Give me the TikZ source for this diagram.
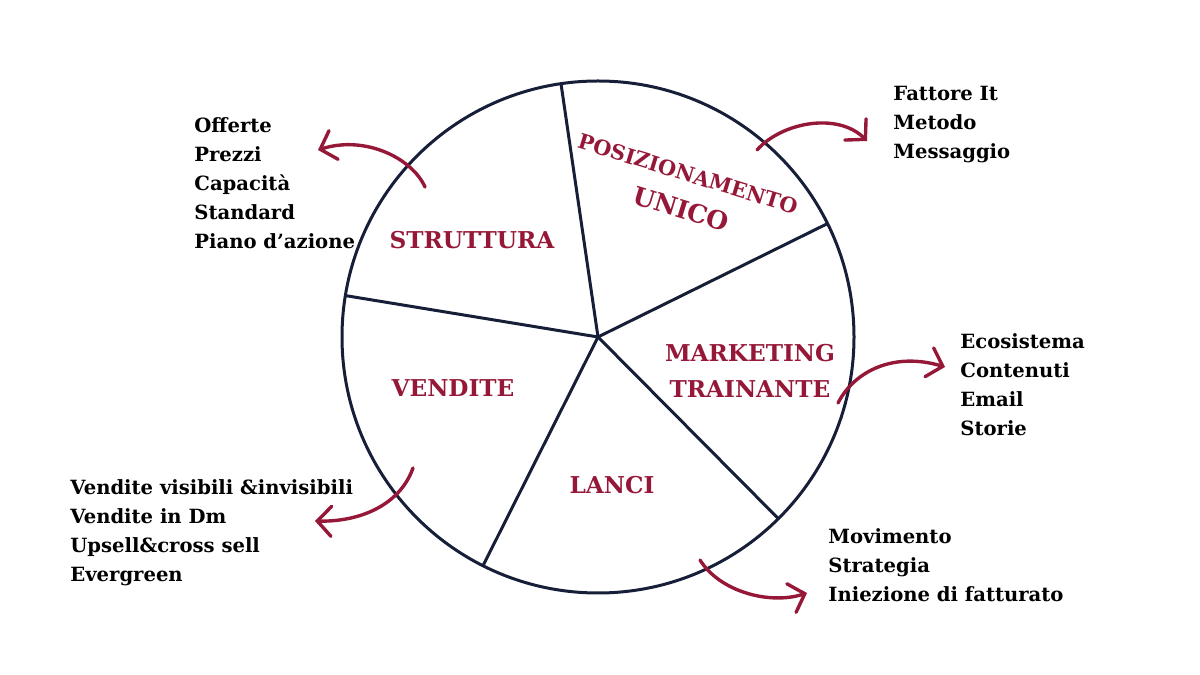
\documentclass[tikz,border=0pt]{standalone}
\usepackage{fontspec}
\setmainfont{DejaVu Serif}
\usepackage{xcolor}
\usepackage{tikz}
\usetikzlibrary{arrows.meta}

\definecolor{wine}{RGB}{150,24,56}
\definecolor{navy}{RGB}{22,30,56}

\tikzset{
 rim/.style={navy, line width=1.5pt},
 lbl/.style={wine, font=\bfseries\fontsize{11.6}{18}\selectfont, align=center, inner sep=0pt},
 lst/.style={black, font=\bfseries\fontsize{9.8}{14.5}\selectfont, align=left, inner sep=0pt, anchor=north west},
 bendarr/.style={wine, line width=1.7pt, line cap=round, -{Straight Barb[length=7pt,width=15pt,line cap=round]}}
}

\begin{document}
\begin{tikzpicture}[x=0.5pt,y=0.5pt]
 \useasboundingbox (0,0) rectangle (1200,675);

 \coordinate (o) at (598,338);
 \coordinate (a1) at (561,591.3);
 \coordinate (a2) at (827.5,451.4);
 \coordinate (a3) at (778.4,156.3);
 \coordinate (a4) at (483,109.3);
 \coordinate (a5) at (345.4,379.4);

 % arrow starts and tips
 \coordinate (s1) at (425,488);
 \coordinate (t1) at (318,525);
 \coordinate (s2) at (757,525);
 \coordinate (t2) at (867,534);
 \coordinate (s3) at (838,272);
 \coordinate (t3) at (945,308);
 \coordinate (s4) at (700,115);
 \coordinate (t4) at (807,82);
 \coordinate (s5) at (413,207);
 \coordinate (t5) at (315,154);

\draw[rim] (o) circle (256);
\draw[rim] (o)--(a1);
\draw[rim] (o)--(a2);
\draw[rim] (o)--(a3);
\draw[rim] (o)--(a4);
\draw[rim] (o)--(a5);

\draw[bendarr] (s1) .. controls (412,517) and (365,540) .. (t1);
\draw[bendarr] (s2) .. controls (782,553) and (838,563) .. (t2);
\draw[bendarr] (s3) .. controls (855,305) and (895,323) .. (t3);
\draw[bendarr] (s4) .. controls (720,83) and (770,70) .. (t4);
\draw[bendarr] (s5) .. controls (400,170) and (360,153) .. (t5);


\node[lbl] (struttura) at (472,435) {STRUTTURA};
\node[lbl, rotate=-17, font=\bfseries\fontsize{10.4}{14}\selectfont] (posiz) at (688,501) {POSIZIONAMENTO};
\node[lbl, rotate=-17, font=\bfseries\fontsize{12.6}{16}\selectfont] (unico) at (681,466) {UNICO};
\node[lbl] (marketing) at (750,304) {MARKETING\\TRAINANTE};
\node[lbl] (vendite) at (453,287) {VENDITE};
\node[lbl] (lanci) at (612,190) {LANCI};

\node[lst] (l1) at (194,558) {Offerte\\Prezzi\\Capacità\\Standard\\Piano d’azione};
\node[lst] (l2) at (893,589) {Fattore It\\Metodo\\Messaggio};
\node[lst] (l3) at (960,342) {Ecosistema\\Contenuti\\Email\\Storie};
\node[lst] (l4) at (70,196) {Vendite visibili \&invisibili\\Vendite in Dm\\Upsell\&cross sell\\Evergreen};
\node[lst] (l5) at (828,147) {Movimento\\Strategia\\Iniezione di fatturato};

\end{tikzpicture}
\end{document}
